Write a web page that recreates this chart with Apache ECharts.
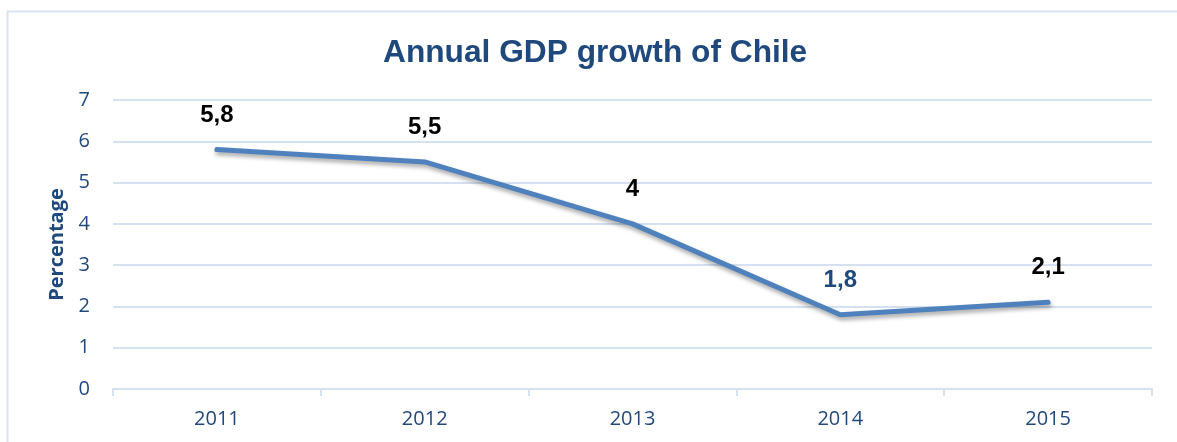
<!DOCTYPE html>
<html><head><meta charset="utf-8">
<script src="https://cdn.jsdelivr.net/npm/echarts@6/dist/echarts.min.js"></script>
<style>html,body{margin:0;padding:0;background:#fff}#c{width:1177px;height:442px}</style>
</head><body><div id="c"></div>
<script>
const categories = ['2011','2012','2013','2014','2015'];
const growth = [5.8, 5.5, 4, 1.8, 2.1];
const labelTexts = ['5,8','5,5','4','1,8','2,1'];
const labelColors = ['#000000','#000000','#000000','#1F497D','#000000'];
const yTicks = [0,1,2,3,4,5,6,7];

const axisFont = 'Open Sans, Noto Sans, Liberation Sans, Arial';
const chart = echarts.init(document.getElementById('c'), null, {renderer:'canvas'});
chart.setOption({
  backgroundColor:'#ffffff',
  animation:false,
  graphic:[{type:'rect', shape:{x:7.5,y:11.5,width:1300,height:600}, style:{fill:'none', stroke:'#D9E3F1', lineWidth:2}, z:-1}],
  title:{text:'Annual GDP growth of Chile', left:378, top:32,
    textStyle:{fontFamily:'Liberation Sans, Arial', fontWeight:'bold', fontSize:31.7, color:'#1F497D'}},
  grid:{left:113, right:25, top:100, bottom:53},
  xAxis:{type:'category', data:categories, boundaryGap:true,
    axisLine:{lineStyle:{color:'#D5E0F0', width:2}},
    axisTick:{show:true, length:7, lineStyle:{color:'#D5E0F0', width:2}},
    axisLabel:{color:'#1F497D', fontSize:20, fontFamily:axisFont, margin:20}},
  yAxis:{type:'value', min:yTicks[0], max:yTicks[yTicks.length-1], interval:1,
    name:'Percentage', nameLocation:'middle', nameRotate:90, nameGap:43,
    nameTextStyle:{color:'#1F497D', fontWeight:'bold', fontSize:20, fontFamily:axisFont},
    axisLine:{show:false}, axisTick:{show:false},
    axisLabel:{color:'#1F497D', fontSize:20, fontFamily:axisFont, margin:23},
    splitLine:{lineStyle:{color:'#D5E0F0', width:2}}},
  series:[{type:'line',
    data:growth.map((v,i)=>({value:v, label:{show:true, formatter:labelTexts[i], color:labelColors[i]}})),
    symbol:'circle', symbolSize:1, showSymbol:true, smooth:false,
    itemStyle:{color:'rgba(0,0,0,0)', borderWidth:0},
    lineStyle:{color:'#4F81BD', width:5, cap:'round', join:'round', shadowColor:'rgba(0,0,0,0.35)', shadowBlur:4, shadowOffsetX:1, shadowOffsetY:3},
    label:{show:true, position:'top', distance:22, fontSize:24, fontWeight:'bold', fontFamily:'Liberation Sans, Arial'},
    labelLayout:{hideOverlap:false}}]
});
</script></body></html>
